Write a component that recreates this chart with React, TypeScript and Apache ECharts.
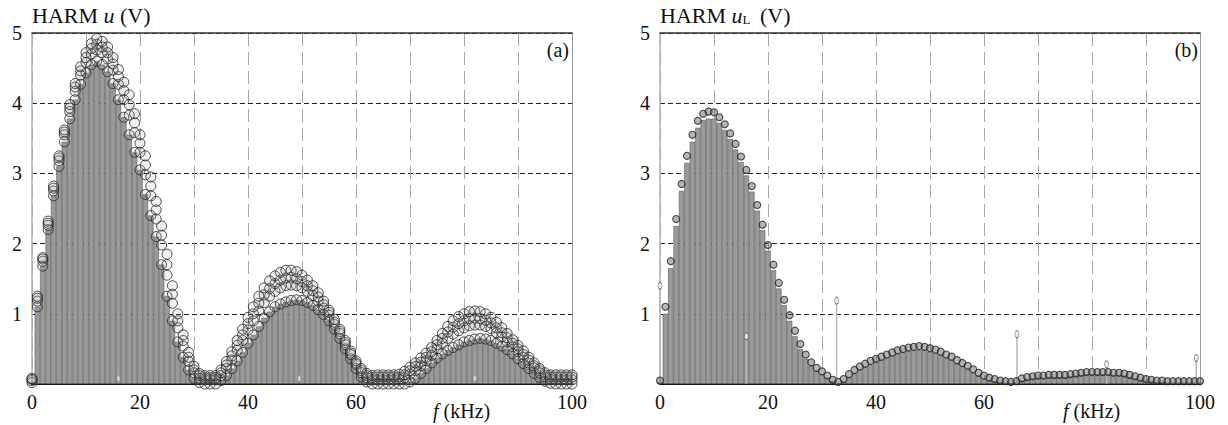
import React, { useEffect, useRef } from "react";
import * as echarts from "echarts";

const freqKHz = [
  0, 1, 2, 3, 4, 5, 6, 7, 8, 9, 10, 11, 12, 13, 14, 15, 16, 17, 18, 19, 20,
  21, 22, 23, 24, 25, 26, 27, 28, 29, 30, 31, 32, 33, 34, 35, 36, 37, 38, 39, 40,
  41, 42, 43, 44, 45, 46, 47, 48, 49, 50, 51, 52, 53, 54, 55, 56, 57, 58, 59, 60,
  61, 62, 63, 64, 65, 66, 67, 68, 69, 70, 71, 72, 73, 74, 75, 76, 77, 78, 79, 80,
  81, 82, 83, 84, 85, 86, 87, 88, 89, 90, 91, 92, 93, 94, 95, 96, 97, 98, 99, 100,
];

// Panel (a): HARM u
const barsA = [
  0.02, 1.1, 1.68, 2.2, 2.68, 3.1, 3.45, 3.78, 4.05, 4.27, 4.43, 4.55, 4.6, 4.55, 4.45, 4.28, 4.05, 3.8, 3.55, 3.3, 3.05,
  2.7, 2.4, 2.1, 1.7, 1.25, 0.9, 0.6, 0.38, 0.2, 0.08, 0.02, 0, 0, 0, 0.05, 0.12, 0.22, 0.33, 0.45, 0.58,
  0.7, 0.82, 0.94, 1.03, 1.1, 1.14, 1.17, 1.19, 1.2, 1.19, 1.16, 1.12, 1.06, 0.99, 0.9, 0.78, 0.65, 0.5, 0.36, 0.22,
  0.1, 0.03, 0, 0, 0, 0, 0, 0, 0, 0.03, 0.08, 0.15, 0.22, 0.3, 0.37, 0.43, 0.48, 0.52, 0.56, 0.6,
  0.62, 0.64, 0.65, 0.64, 0.62, 0.58, 0.54, 0.49, 0.43, 0.36, 0.29, 0.22, 0.15, 0.09, 0.04, 0.01, 0, 0, 0, 0,
];
const midA = [
  0.05, 1.18, 1.75, 2.26, 2.75, 3.18, 3.55, 3.88, 4.17, 4.4, 4.58, 4.7, 4.76, 4.72, 4.63, 4.47, 4.27, 4.05, 3.83, 3.58, 3.3,
  2.98, 2.68, 2.35, 1.98, 1.55, 1.15, 0.8, 0.54, 0.32, 0.16, 0.08, 0.06, 0.06, 0.06, 0.12, 0.22, 0.34, 0.48, 0.62, 0.77,
  0.9, 1.04, 1.16, 1.25, 1.32, 1.37, 1.4, 1.41, 1.4, 1.37, 1.32, 1.26, 1.18, 1.08, 0.98, 0.85, 0.72, 0.56, 0.42, 0.28,
  0.16, 0.09, 0.06, 0.06, 0.06, 0.06, 0.06, 0.07, 0.09, 0.14, 0.19, 0.26, 0.33, 0.41, 0.5, 0.58, 0.65, 0.71, 0.76, 0.8,
  0.83, 0.84, 0.84, 0.82, 0.79, 0.73, 0.67, 0.6, 0.53, 0.46, 0.38, 0.3, 0.23, 0.16, 0.1, 0.07, 0.06, 0.06, 0.06, 0.06,
];
const hiMidA = [
  0.07, 1.22, 1.78, 2.29, 2.79, 3.22, 3.59, 3.93, 4.23, 4.46, 4.65, 4.78, 4.84, 4.8, 4.72, 4.56, 4.38, 4.18, 3.98, 3.72, 3.43,
  3.12, 2.82, 2.48, 2.12, 1.7, 1.28, 0.9, 0.62, 0.38, 0.2, 0.12, 0.09, 0.09, 0.09, 0.16, 0.27, 0.4, 0.55, 0.7, 0.86,
  1.0, 1.15, 1.27, 1.36, 1.43, 1.48, 1.51, 1.52, 1.5, 1.46, 1.4, 1.33, 1.24, 1.13, 1.02, 0.88, 0.75, 0.59, 0.44, 0.3,
  0.19, 0.12, 0.09, 0.1, 0.1, 0.1, 0.1, 0.1, 0.13, 0.19, 0.25, 0.31, 0.38, 0.46, 0.56, 0.65, 0.74, 0.81, 0.86, 0.9,
  0.93, 0.94, 0.93, 0.91, 0.87, 0.8, 0.73, 0.66, 0.58, 0.5, 0.42, 0.34, 0.26, 0.19, 0.13, 0.1, 0.1, 0.1, 0.1, 0.1,
];
const upperA = [
  0.08, 1.25, 1.8, 2.32, 2.82, 3.25, 3.62, 3.98, 4.28, 4.52, 4.72, 4.85, 4.92, 4.88, 4.8, 4.65, 4.48, 4.3, 4.12, 3.85, 3.55,
  3.25, 2.95, 2.6, 2.25, 1.85, 1.4, 1.0, 0.7, 0.45, 0.25, 0.15, 0.12, 0.12, 0.12, 0.2, 0.32, 0.46, 0.62, 0.78, 0.95,
  1.1, 1.25, 1.37, 1.47, 1.54, 1.59, 1.62, 1.62, 1.6, 1.55, 1.48, 1.4, 1.3, 1.18, 1.05, 0.92, 0.78, 0.62, 0.47, 0.33,
  0.22, 0.15, 0.12, 0.13, 0.13, 0.13, 0.13, 0.14, 0.18, 0.24, 0.3, 0.37, 0.44, 0.52, 0.62, 0.72, 0.82, 0.9, 0.96, 1.0,
  1.03, 1.04, 1.03, 1.0, 0.95, 0.88, 0.8, 0.72, 0.63, 0.55, 0.47, 0.38, 0.3, 0.22, 0.16, 0.13, 0.13, 0.13, 0.13, 0.13,
];
const markAX = [16, 49.5, 82];
const markAY = [0.08, 0.08, 0.08];

// Panel (b): HARM u_L
const barsB = [
  0.02, 1.0, 1.65, 2.25, 2.75, 3.15, 3.45, 3.65, 3.76, 3.78, 3.78, 3.72, 3.62, 3.49, 3.34, 3.16, 2.97, 2.74, 2.47, 2.19, 1.9,
  1.62, 1.36, 1.12, 0.9, 0.68, 0.5, 0.36, 0.26, 0.19, 0.14, 0.09, 0.04, 0.01, 0.04, 0.1, 0.15, 0.2, 0.24, 0.28, 0.31,
  0.34, 0.37, 0.4, 0.43, 0.45, 0.47, 0.48, 0.49, 0.48, 0.46, 0.44, 0.41, 0.37, 0.34, 0.29, 0.25, 0.21, 0.16, 0.12, 0.08,
  0.06, 0.04, 0.03, 0.02, 0.01, 0.02, 0.05, 0.07, 0.08, 0.09, 0.09, 0.1, 0.1, 0.1, 0.1, 0.11, 0.12, 0.13, 0.14, 0.14,
  0.14, 0.14, 0.14, 0.13, 0.13, 0.12, 0.1, 0.08, 0.06, 0.05, 0.04, 0.03, 0.03, 0.02, 0.02, 0.02, 0.02, 0.02, 0.02, 0.02,
];
const circB = [
  0.05, 1.1, 1.75, 2.35, 2.85, 3.25, 3.55, 3.75, 3.85, 3.88, 3.87, 3.8, 3.7, 3.57, 3.42, 3.24, 3.05, 2.82, 2.55, 2.27, 1.98,
  1.7, 1.44, 1.2, 0.98, 0.76, 0.57, 0.42, 0.31, 0.23, 0.18, 0.12, 0.06, 0.03, 0.07, 0.14, 0.2, 0.25, 0.29, 0.33, 0.36,
  0.39, 0.42, 0.45, 0.48, 0.5, 0.52, 0.53, 0.54, 0.53, 0.51, 0.49, 0.46, 0.42, 0.39, 0.34, 0.3, 0.26, 0.21, 0.16, 0.12,
  0.09, 0.07, 0.05, 0.04, 0.03, 0.04, 0.08, 0.1, 0.11, 0.12, 0.12, 0.13, 0.13, 0.13, 0.13, 0.14, 0.15, 0.16, 0.17, 0.17,
  0.17, 0.17, 0.17, 0.16, 0.16, 0.15, 0.13, 0.11, 0.09, 0.07, 0.06, 0.05, 0.05, 0.04, 0.04, 0.04, 0.04, 0.04, 0.04, 0.04,
];
const spikeBX = [0, 16, 32.7, 66.1, 82.7, 99.3];
const spikeBY = [1.4, 0.68, 1.19, 0.71, 0.28, 0.37];

const xTickLabels = ["0", "20", "40", "60", "100"];
const yTickLabels = ["1", "2", "3", "4", "5"];

const SERIF = "'Liberation Serif', 'Times New Roman', serif";
const FS = 20;
const TFS = 22;

const pairs = (xs: number[], ys: number[]) => xs.map((x, i) => [x, ys[i]]);

function axesFor(gi: number) {
  const xAxes = [
    {
      gridIndex: gi,
      type: "value",
      min: 0,
      max: 100,
      interval: 10,
      position: "bottom",
      axisLine: { onZero: false, lineStyle: { color: "#111", width: 2 } },
      axisTick: { show: false },
      axisLabel: {
        fontFamily: SERIF,
        fontSize: FS,
        color: "#111",
        margin: 8,
        showMinLabel: true,
        showMaxLabel: true,
        formatter: (v: number) => (xTickLabels.includes(String(v)) ? String(v) : ""),
      },
      splitLine: { show: true, lineStyle: { color: "#a8a8a8", type: [13, 6], width: 1 } },
    },
    {
      gridIndex: gi,
      type: "value",
      min: 0,
      max: 100,
      position: "top",
      axisLine: { onZero: false, lineStyle: { color: "#333", width: 1.5 } },
      axisTick: { show: false },
      axisLabel: { show: false },
      splitLine: { show: false },
    },
  ];
  const yAxes = [
    {
      gridIndex: gi,
      type: "value",
      min: 0,
      max: 5,
      interval: 1,
      position: "left",
      axisLine: { show: true, onZero: false, lineStyle: { color: "#b0b0b0", width: 1.5 } },
      axisTick: { show: false },
      axisLabel: {
        fontFamily: SERIF,
        fontSize: FS,
        color: "#111",
        margin: 10,
        formatter: (v: number) => (yTickLabels.includes(String(v)) ? String(v) : ""),
      },
      splitLine: { show: true, lineStyle: { color: "#222", type: [5, 3], width: 1 } },
    },
    {
      gridIndex: gi,
      type: "value",
      min: 0,
      max: 5,
      position: "right",
      axisLine: { show: true, onZero: false, lineStyle: { color: "#999", width: 1 } },
      axisTick: { show: false },
      axisLabel: { show: false },
      splitLine: { show: false },
    },
  ];
  return { xAxes, yAxes };
}

export default function App() {
  const ref = useRef<HTMLDivElement>(null);
  useEffect(() => {
    const chart = echarts.init(ref.current!, null, { renderer: "svg" });
    const a = axesFor(0);
    const b = axesFor(1);
    const barStyle = { color: "#9a9a9a", borderColor: "#5a5a5a", borderWidth: 0.6 };
    const circleA = {
      type: "scatter",
      symbol: "circle",
      symbolSize: 10,
      itemStyle: { color: "rgba(150,150,150,0.18)", borderColor: "#262626", borderWidth: 1 },
      z: 4,
    };
    const rich = {
      n: { fontFamily: SERIF, fontSize: FS, fill: "#111" },
      i: { fontFamily: SERIF, fontSize: FS, fontStyle: "italic", fill: "#111" },
    };
    const richT = {
      n: { fontFamily: SERIF, fontSize: TFS, fill: "#111", lineHeight: 26, verticalAlign: "bottom" },
      i: { fontFamily: SERIF, fontSize: TFS, fontStyle: "italic", fill: "#111", lineHeight: 26, verticalAlign: "bottom" },
      s: { fontFamily: SERIF, fontSize: 13, fill: "#111", lineHeight: 10, verticalAlign: "bottom", padding: [0, 4, 0, 0] },
    };
    const option: any = {
      animation: false,
      backgroundColor: "#fff",
      grid: [
        { left: 32, top: 33, width: 540, height: 351 },
        { left: 660, top: 33, width: 540, height: 351 },
      ],
      xAxis: [...a.xAxes, ...b.xAxes],
      yAxis: [...a.yAxes, ...b.yAxes],
      series: [
        {
          type: "bar",
          xAxisIndex: 0,
          yAxisIndex: 0,
          barWidth: 5.4,
          itemStyle: barStyle,
          data: pairs(freqKHz, barsA),
          z: 2,
        },
        { ...circleA, xAxisIndex: 0, yAxisIndex: 0, data: pairs(freqKHz, barsA) },
        { ...circleA, xAxisIndex: 0, yAxisIndex: 0, data: pairs(freqKHz, midA) },
        { ...circleA, xAxisIndex: 0, yAxisIndex: 0, data: pairs(freqKHz, hiMidA) },
        { ...circleA, xAxisIndex: 0, yAxisIndex: 0, data: pairs(freqKHz, upperA) },
        {
          type: "scatter",
          xAxisIndex: 0,
          yAxisIndex: 0,
          symbol: "circle",
          symbolSize: [3, 6],
          itemStyle: { color: "#e8e8e8", borderColor: "#888", borderWidth: 0.5 },
          data: pairs(markAX, markAY),
          z: 5,
        },
        {
          type: "bar",
          xAxisIndex: 2,
          yAxisIndex: 2,
          barWidth: 5.4,
          itemStyle: barStyle,
          data: pairs(freqKHz, barsB),
          z: 2,
        },
        {
          type: "bar",
          xAxisIndex: 3,
          yAxisIndex: 2,
          barWidth: 1.5,
          itemStyle: { color: "#b8b8b8" },
          data: pairs(spikeBX, spikeBY),
          z: 3,
        },
        {
          type: "scatter",
          xAxisIndex: 2,
          yAxisIndex: 2,
          symbol: "circle",
          symbolSize: 7,
          itemStyle: { color: "rgba(100,100,100,0.6)", borderColor: "#222", borderWidth: 1.1 },
          data: pairs(freqKHz, circB),
          z: 4,
        },
        {
          type: "scatter",
          xAxisIndex: 2,
          yAxisIndex: 2,
          symbol: "circle",
          symbolSize: [4, 7],
          itemStyle: { color: "#f4f4f4", borderColor: "#555", borderWidth: 0.8 },
          data: pairs(spikeBX, spikeBY),
          z: 5,
        },
      ],
      graphic: [
        {
          type: "text",
          left: 32,
          top: 4,
          style: { text: "{n|HARM }{i|u}{n| (V)}", rich: richT },
        },
        {
          type: "text",
          left: 660,
          top: 4,
          style: { text: "{n|HARM }{i|u}{s|L}{n| (V)}", rich: richT },
        },
        {
          type: "text",
          right: 1228 - 569,
          top: 40,
          style: { text: "(a)", fontFamily: SERIF, fontSize: FS, fill: "#111" },
        },
        {
          type: "text",
          right: 1228 - 1198,
          top: 40,
          style: { text: "(b)", fontFamily: SERIF, fontSize: FS, fill: "#111" },
        },
        {
          type: "text",
          left: 433,
          top: 401,
          style: { text: "{i|f}{n| (kHz)}", rich },
        },
        {
          type: "text",
          left: 1063,
          top: 401,
          style: { text: "{i|f}{n| (kHz)}", rich },
        },
      ],
    };
    chart.setOption(option);
    return () => chart.dispose();
  }, []);
  return (
    <div
      ref={ref}
      style={{ position: "absolute", left: 0, top: 0, width: 1228, height: 425 }}
    />
  );
}
